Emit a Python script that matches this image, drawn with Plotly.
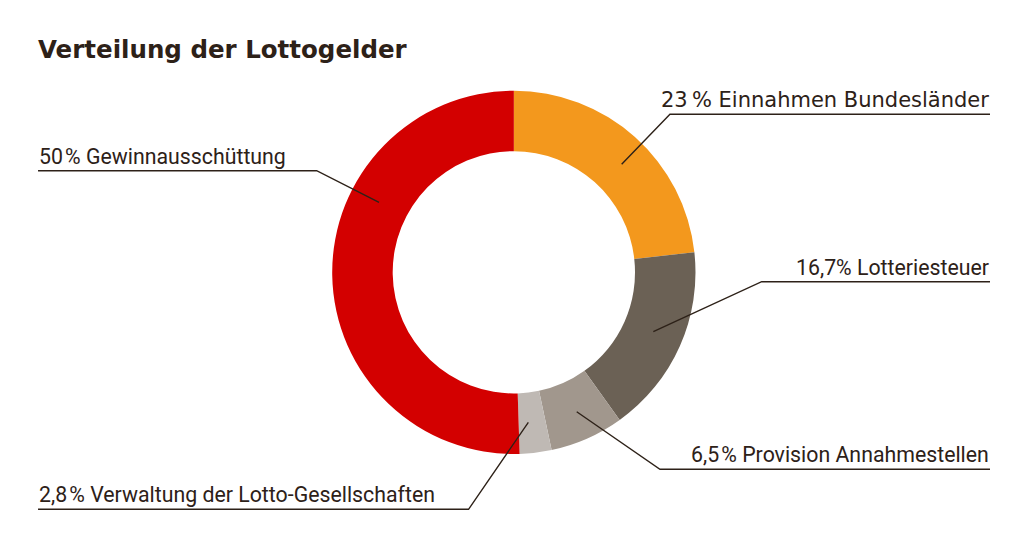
import plotly.graph_objects as go

# ---- data ----
labels = ["Einnahmen Bundesländer", "Lotteriesteuer", "Provision Annahmestellen",
          "Verwaltung der Lotto-Gesellschaften", "Gewinnausschüttung"]
values = [23, 16.7, 6.5, 2.8, 50]
value_text = ["23\u2009%", "16,7%", "6,5\u200a%", "2,8\u200a%", "50\u200a%"]
colors = ["#F3981D", "#6B6155", "#A1978D", "#BFB9B4", "#D30000"]
title_text = "Verteilung der Lottogelder"

# page body has an 8px margin: figure is 1008x530 placed at (8, 8)
OFF = 8
W, H = 1008, 530
TXT = "#2D2118"

def px(x):
    return (x - OFF) / W

def py(y):
    return 1 - (y - OFF) / H

fig = go.Figure(go.Pie(
    labels=labels, values=values, marker=dict(colors=colors, line=dict(width=0)),
    hole=0.667, sort=False, direction="clockwise", rotation=0,
    textinfo="none", hoverinfo="label+percent", showlegend=False,
    domain=dict(x=[px(331.7), px(696.0)], y=[py(454.0), py(90.7)]),
))

# label geometry: (leader start, knee, line end, text side, font, size)
geom = [
    ((621.7, 164.3), (670, 114.3), 990, "right", "DejaVu Sans", 21),
    ((653.3, 331.7), (761.7, 281.7), 990, "right", "Roboto", 21.3),
    ((576.7, 411.7), (660, 469.3), 990, "right", "Roboto", 21.3),
    ((528.3, 422.3), (468.6, 509.3), 38, "left", "Roboto", 21.3),
    ((379.0, 202.3), (316.7, 170.7), 38, "left", "Roboto", 21.3),
]

shapes = []
annotations = []
for i, (start, knee, end, side, fam, size) in enumerate(geom):
    path = "M {:.4f},{:.4f} L {:.4f},{:.4f} L {:.4f},{:.4f}".format(
        px(start[0]), py(start[1]), px(knee[0]), py(knee[1]), px(end), py(knee[1]))
    shapes.append(dict(type="path", path=path, xref="paper", yref="paper",
                       line=dict(color=TXT, width=1.4)))
    annotations.append(dict(
        text=value_text[i] + " " + labels[i], xref="paper", yref="paper",
        x=px(end), y=py(knee[1] - 1), xanchor=side, yanchor="bottom",
        showarrow=False, font=dict(family=fam, size=size, color=TXT),
        borderpad=0,
    ))

annotations.append(dict(
    text="<b>" + title_text + "</b>", xref="paper", yref="paper",
    x=px(37), y=py(34), xanchor="left", yanchor="top", showarrow=False,
    font=dict(family="DejaVu Sans", size=24.5, color=TXT), borderpad=0,
))

fig.update_layout(
    width=W, height=H, margin=dict(l=0, r=0, t=0, b=0),
    paper_bgcolor="white", plot_bgcolor="white",
    shapes=shapes, annotations=annotations,
)

fig.write_html("out.html")
